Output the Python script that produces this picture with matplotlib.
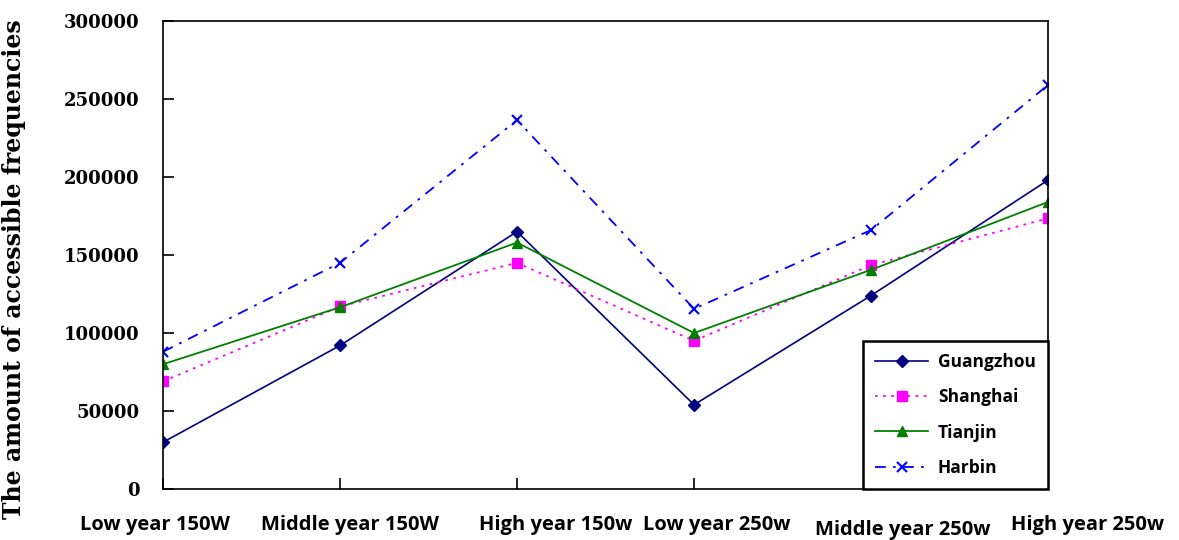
#! /usr/bin/env python3
import matplotlib
matplotlib.use('Agg')
import matplotlib.pyplot as plt
import matplotlib.transforms as mtransforms

categories = ['Low year 150W', 'Middle year 150W', 'High year 150w',
              'Low year 250w', 'Middle year 250w', 'High year 250w']
guangzhou = [30000, 92000, 165000, 54000, 124000, 198000]
shanghai = [69000, 117000, 145000, 95000, 143500, 173500]
tianjin = [80000, 116500, 158000, 100000, 140500, 184000]
harbin = [88000, 145000, 236500, 115500, 166000, 259000]
y_ticks = [0, 50000, 100000, 150000, 200000, 250000, 300000]


def main():
    fig = plt.figure(figsize=(11.79, 5.4), dpi=100)
    ax = fig.add_axes([0.1383, 0.0944, 0.7506, 0.8667])
    x = list(range(len(categories)))

    ax.plot(x, guangzhou, color='#000080', lw=1.2, marker='D', ms=6,
            label='Guangzhou')
    ax.plot(x, shanghai, color='#ff00ff', lw=1.3, ls=(0, (1.5, 3)), marker='s',
            ms=7, label='Shanghai')
    ax.plot(x, tianjin, color='#008000', lw=1.3, marker='^', ms=7,
            label='Tianjin')
    ax.plot(x, harbin, color='#0000ff', lw=1.3, ls=(0, (6, 4, 1.5, 4)),
            marker='x', ms=7, mew=1.5, label='Harbin')

    ax.set_xlim(0, 5)
    ax.set_ylim(0, 300000)
    ax.set_xticks(x)
    ax.set_xticklabels(categories, fontsize=14.5, fontweight='bold',
                       family='Open Sans')
    ax.set_yticks(y_ticks)
    ax.set_yticklabels([str(v) for v in y_ticks], fontsize=13,
                       fontweight='bold', family='DejaVu Serif')
    ax.tick_params(axis='both', direction='in', length=8, width=1.2)
    ax.tick_params(axis='x', pad=19)
    ax.tick_params(axis='y', pad=17)
    for side in ax.spines.values():
        side.set_linewidth(1.2)

    # labels in the original sit a bit off their ticks
    shifts = [(-8, 0), (10, 0), (39, 0), (23, 0), (32, -5), (40, 0)]
    for lab, (dx, dy) in zip(ax.get_xticklabels(), shifts):
        off = mtransforms.ScaledTranslation(dx / 100, dy / 100,
                                            fig.dpi_scale_trans)
        lab.set_transform(lab.get_transform() + off)

    ax.set_ylabel('The amount of accessible frequencies', fontsize=17,
                  family='DejaVu Serif', fontweight='semibold')
    ax.yaxis.set_label_coords(-0.155, 0.47)

    leg = ax.legend(loc='lower right', bbox_to_anchor=(1.0, 0.0),
                    borderaxespad=0.0, fancybox=False, shadow=False,
                    framealpha=1, edgecolor='black', borderpad=0.7,
                    labelspacing=1.0, handlelength=3.0, handletextpad=0.6,
                    prop={'size': 12.5, 'weight': 'bold',
                          'family': 'Open Sans'})
    leg.get_frame().set_linewidth(1.8)

    fig.savefig('out.png', dpi=100)


if __name__ == "__main__":
    main()
